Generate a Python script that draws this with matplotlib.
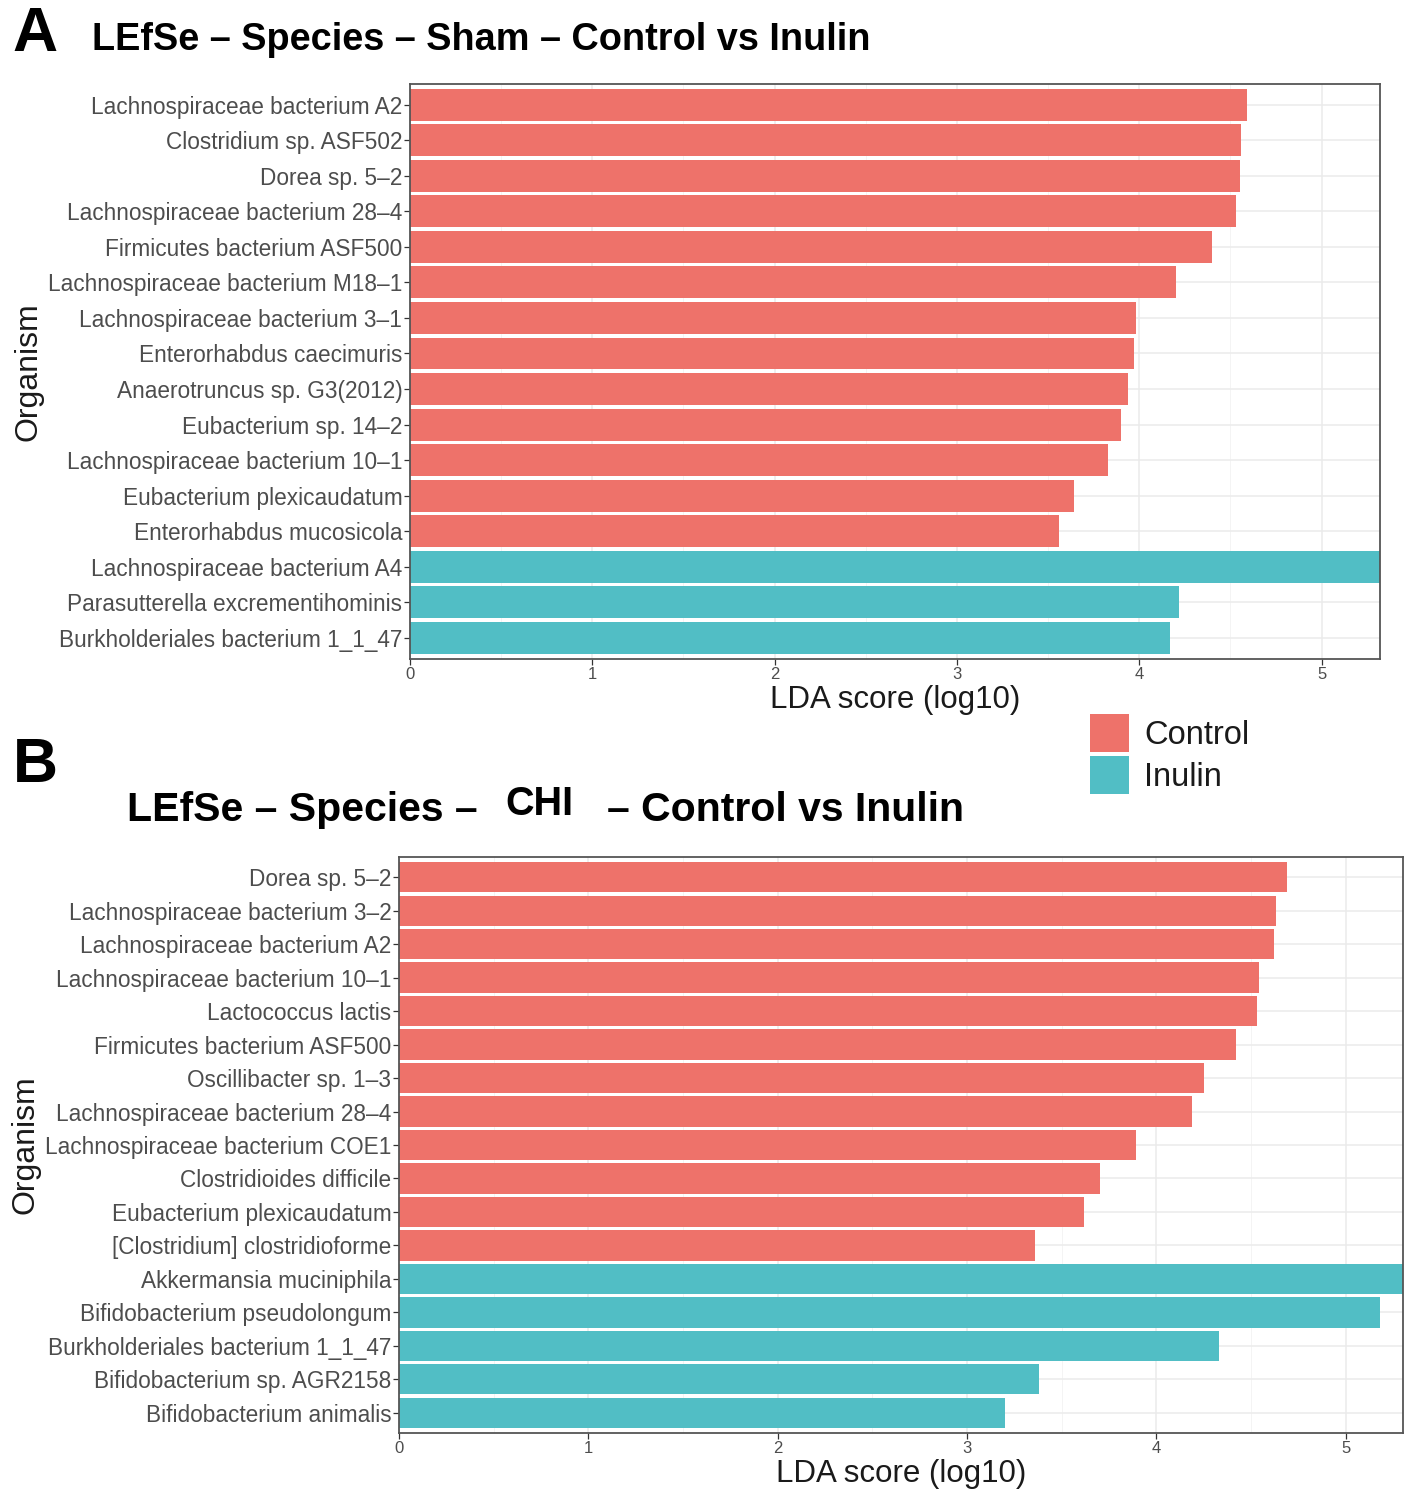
import matplotlib
matplotlib.use("Agg")
import matplotlib.pyplot as plt
from matplotlib.patches import Patch
import numpy as np

plt.rcParams['font.family'] = ['Liberation Sans', 'DejaVu Sans']

# ---------------- data ----------------
a_species = [
    "Lachnospiraceae bacterium A2",
    "Clostridium sp. ASF502",
    "Dorea sp. 5–2",
    "Lachnospiraceae bacterium 28–4",
    "Firmicutes bacterium ASF500",
    "Lachnospiraceae bacterium M18–1",
    "Lachnospiraceae bacterium 3–1",
    "Enterorhabdus caecimuris",
    "Anaerotruncus sp. G3(2012)",
    "Eubacterium sp. 14–2",
    "Lachnospiraceae bacterium 10–1",
    "Eubacterium plexicaudatum",
    "Enterorhabdus mucosicola",
    "Lachnospiraceae bacterium A4",
    "Parasutterella excrementihominis",
    "Burkholderiales bacterium 1_1_47",
]
a_scores = [4.59, 4.56, 4.55, 4.53, 4.40, 4.20, 3.98, 3.97, 3.94, 3.90,
            3.83, 3.64, 3.56, 5.32, 4.22, 4.17]
a_groups = ["Control"] * 13 + ["Inulin"] * 3

b_species = [
    "Dorea sp. 5–2",
    "Lachnospiraceae bacterium 3–2",
    "Lachnospiraceae bacterium A2",
    "Lachnospiraceae bacterium 10–1",
    "Lactococcus lactis",
    "Firmicutes bacterium ASF500",
    "Oscillibacter sp. 1–3",
    "Lachnospiraceae bacterium 28–4",
    "Lachnospiraceae bacterium COE1",
    "Clostridioides difficile",
    "Eubacterium plexicaudatum",
    "[Clostridium] clostridioforme",
    "Akkermansia muciniphila",
    "Bifidobacterium pseudolongum",
    "Burkholderiales bacterium 1_1_47",
    "Bifidobacterium sp. AGR2158",
    "Bifidobacterium animalis",
]
b_scores = [4.69, 4.63, 4.62, 4.54, 4.53, 4.42, 4.25, 4.19, 3.89, 3.70,
            3.62, 3.36, 5.30, 5.18, 4.33, 3.38, 3.20]
b_groups = ["Control"] * 12 + ["Inulin"] * 5

group_names = ["Control", "Inulin"]
group_colors = {"Control": "#EE726A", "Inulin": "#51BEC5"}
x_ticks = [0, 1, 2, 3, 4, 5]

# ---------------- figure ----------------
W, H = 1412, 1500
fig = plt.figure(figsize=(W / 100, H / 100), dpi=100)


def px_axes(left, top, right, bottom):
    return fig.add_axes([left / W, 1 - bottom / H, (right - left) / W, (bottom - top) / H])


def draw_panel(ax, species, scores, groups):
    n = len(species)
    y = np.arange(n)
    cols = [group_colors[g] for g in groups]
    ax.barh(y, scores, height=0.9, color=cols, edgecolor='none', zorder=2)
    ax.set_yticks(y)
    ax.set_yticklabels(species)
    ax.set_ylim(n - 1 + 0.6, -0.6)
    ax.set_xlim(0, max(scores))
    ax.set_xticks(x_ticks)
    ax.set_xticks(np.arange(0.5, max(scores), 1.0), minor=True)
    ax.grid(which='major', color='#EBEBEB', lw=1.1, zorder=0)
    ax.grid(which='minor', axis='x', color='#F2F2F2', lw=0.6, zorder=0)
    ax.set_axisbelow(True)
    for s in ax.spines.values():
        s.set_color('#555555')
        s.set_linewidth(1.3)
    ax.tick_params(axis='y', which='major', labelsize=16.3, labelcolor='#4D4D4D',
                   color='#333333', length=4, width=0.9, pad=1.5)
    ax.tick_params(axis='x', which='major', labelsize=12, labelcolor='#4D4D4D',
                   color='#333333', length=4, width=0.9, pad=2)
    ax.tick_params(axis='x', which='minor', length=0)
    ax.set_xlabel("LDA score (log10)", fontsize=22.5, color='#1A1A1A', labelpad=2)
    ax.set_ylabel("Organism", fontsize=23, color='#1A1A1A', labelpad=3)


axA = px_axes(410, 83.5, 1380, 659)
draw_panel(axA, a_species, a_scores, a_groups)

axB = px_axes(399, 857, 1402.5, 1433)
draw_panel(axB, b_species, b_scores, b_groups)

# panel letters and titles
fig.text(12 / W, 1 - 51 / H, "A", fontsize=45, fontweight='bold', ha='left', va='baseline')
fig.text(13 / W, 1 - 782 / H, "B", fontsize=45, fontweight='bold', ha='left', va='baseline')
fig.text(92 / W, 1 - 50 / H, "LEfSe – Species – Sham – Control vs Inulin",
         fontsize=27.3, fontweight='bold', ha='left', va='baseline')
fig.text(127 / W, 1 - 821 / H, "LEfSe – Species –",
         fontsize=29.5, fontweight='bold', ha='left', va='baseline')
fig.text(505 / W, 1 - 815 / H, "CHI",
         fontsize=28.5, fontweight='bold', ha='left', va='baseline')
fig.text(607 / W, 1 - 821 / H, "– Control vs Inulin",
         fontsize=29.5, fontweight='bold', ha='left', va='baseline')

# legend
handles = [Patch(facecolor=group_colors[g], edgecolor='none') for g in group_names]
fig.legend(handles, group_names, loc='upper left',
           bbox_to_anchor=(1087 / W, 1 - 711 / H), frameon=False,
           fontsize=23.5, handlelength=1.2, handleheight=1.42,
           handletextpad=0.45, labelspacing=0.1, borderpad=0.1,
           borderaxespad=0, labelcolor='#1A1A1A')

fig.savefig("out.png", dpi=100, facecolor='white')
